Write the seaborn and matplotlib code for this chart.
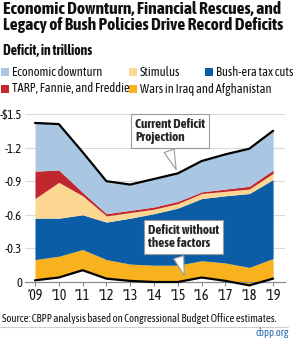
import matplotlib
matplotlib.use("Agg")
import matplotlib.pyplot as plt
from matplotlib import font_manager
from matplotlib.patches import Rectangle
from matplotlib.lines import Line2D
import numpy as np
import pandas as pd
import seaborn as sns

# ---------------- data (trillions of dollars, deficit magnitude) ----------------
years = [2009, 2010, 2011, 2012, 2013, 2014, 2015, 2016, 2017, 2018, 2019]
year_labels = ["\u201909", "\u201910", "\u201911", "\u201912", "\u201913", "\u201914",
               "\u201915", "\u201916", "\u201917", "\u201918", "\u201919"]
without_factors = [0.015, 0.04, 0.105, 0.03, 0.01, 0.0, 0.0, 0.04, 0.01, -0.03, 0.03]
wars = [0.185, 0.19, 0.185, 0.17, 0.15, 0.15, 0.15, 0.15, 0.16, 0.16, 0.18]
bush_tax_cuts = [0.37, 0.34, 0.31, 0.335, 0.41, 0.46, 0.51, 0.555, 0.60, 0.66, 0.705]
stimulus = [0.175, 0.32, 0.17, 0.055, 0.05, 0.04, 0.04, 0.045, 0.04, 0.04, 0.055]
tarp = [0.245, 0.11, 0.03, 0.02, 0.02, 0.02, 0.02, 0.015, 0.02, 0.025, 0.03]
downturn = [0.43, 0.41, 0.36, 0.29, 0.23, 0.25, 0.25, 0.275, 0.31, 0.335, 0.35]
y_ticks = [0, 0.3, 0.6, 0.9, 1.2, 1.5]
y_tick_labels = ["0", "-0.3", "-0.6", "-0.9", "-1.2", "-$1.5"]

series_names = ["Wars in Iraq and Afghanistan", "Bush-era tax cuts", "Stimulus",
                "TARP, Fannie, and Freddie", "Economic downturn"]
colors = {
    "Economic downturn": "#A9C7E2",
    "Stimulus": "#FCD793",
    "Bush-era tax cuts": "#0B5DA6",
    "TARP, Fannie, and Freddie": "#C1272D",
    "Wars in Iraq and Afghanistan": "#F7B21E",
}

# ---------------- fonts ----------------
sns.set_theme(style="white")
available = {f.name for f in font_manager.fontManager.ttflist}
prefs = ["Asap Condensed", "Barlow Condensed", "Roboto Condensed", "Liberation Sans Narrow"]
chosen = [p for p in prefs if p in available][:1]
plt.rcParams["font.family"] = chosen + ["DejaVu Sans"]

W, H = 301, 338
fig = plt.figure(figsize=(W / 100, H / 100), dpi=100)

def fx(px):
    return px / W

def fy(py):
    return 1 - py / H

# ---------------- axes ----------------
ymin, ymax = -0.06, 1.5
ax_left_px, ax_right_px, ax_top_px = 25, 285, 114
ax_bottom_px = 282 + 0.06 * 112
ax = fig.add_axes([fx(ax_left_px), fy(ax_bottom_px),
                   (ax_right_px - ax_left_px) / W, (ax_bottom_px - ax_top_px) / H])

df = pd.DataFrame({"year": years, "base": without_factors, "wars": wars,
                   "bush": bush_tax_cuts, "stim": stimulus, "tarp": tarp,
                   "down": downturn})
layers = [df["wars"], df["bush"], df["stim"], df["tarp"], df["down"]]
ax.stackplot(df["year"], df["base"], *layers,
             colors=["none"] + [colors[n] for n in series_names], linewidth=0, zorder=2)
df["total"] = df[["base", "wars", "bush", "stim", "tarp", "down"]].sum(axis=1)

for v in y_ticks[1:]:
    ax.axhline(v, color="#DADADA", lw=0.8, zorder=0)

sns.lineplot(data=df, x="year", y="total", color="black", lw=1.6, ax=ax, zorder=4)
sns.lineplot(data=df, x="year", y="base", color="black", lw=1.6, ax=ax, zorder=4)

ax.set_xlim(2008.58, 2019.5)
ax.set_ylim(ymin, ymax)
ax.set_xlabel("")
ax.set_ylabel("")
for s in ["top", "right", "left"]:
    ax.spines[s].set_visible(False)
ax.spines["bottom"].set_position(("data", 0))
ax.spines["bottom"].set_color("#8A8A8A")
ax.spines["bottom"].set_linewidth(0.9)
ax.spines["bottom"].set_zorder(3)
ax.set_xticks(years)
ax.set_xticklabels(year_labels)
ax.set_yticks(y_ticks)
ax.set_yticklabels(y_tick_labels)
ax.tick_params(axis="x", direction="out", length=3, width=0.8, color="#8A8A8A",
               labelsize=10, pad=2, bottom=True)
ax.tick_params(axis="y", length=0, labelsize=9, pad=2)
for t in ax.get_xticklabels() + ax.get_yticklabels():
    t.set_color("#111111")

# callouts (speech-bubble boxes with tapered pointers)
bbox = dict(boxstyle="square,pad=0.3", fc="white", ec="#9A9A9A", lw=0.8)
ax.annotate("Current Deficit\nProjection", xy=(2014.97, 0.98), xytext=(2013.2, 1.35),
            ha="left", va="center", fontsize=9.5, fontweight="bold", linespacing=1.0,
            bbox=bbox, zorder=6,
            arrowprops=dict(arrowstyle="wedge,tail_width=0.8,shrink_factor=0.5",
                            fc="white", ec="#9A9A9A", lw=0.8, relpos=(0.45, 0.0)))
ax.annotate("Deficit without\nthese factors", xy=(2015.3, 0.035), xytext=(2013.75, 0.40),
            ha="left", va="center", fontsize=9.5, fontweight="bold", linespacing=1.0,
            bbox=bbox, zorder=6,
            arrowprops=dict(arrowstyle="wedge,tail_width=0.8,shrink_factor=0.5",
                            fc="white", ec="#9A9A9A", lw=0.8, relpos=(0.4, 0.0)))

# ---------------- titles ----------------
fig.text(fx(3), fy(1), "Economic Downturn, Financial Rescues, and\nLegacy of Bush Policies Drive Record Deficits",
         ha="left", va="top", fontsize=12.6, fontweight="bold", linespacing=1.0, color="#111111")
fig.text(fx(3), fy(51), "Deficit, in trillions", ha="left", va="center",
         fontsize=10, fontweight="bold", color="#111111")

# ---------------- legend (manual) ----------------
legend_items = [
    ("Economic downturn", 1, 72),
    ("Stimulus", 129, 72),
    ("Bush-era tax cuts", 205, 72),
    ("TARP, Fannie, and Freddie", 1, 89),
    ("Wars in Iraq and Afghanistan", 129, 89),
]
for name, px, py in legend_items:
    fig.patches.append(Rectangle((fx(px), fy(py + 4)), 8 / W, 8 / H,
                                 transform=fig.transFigure, fc=colors[name], ec="none"))
    fig.text(fx(px + 11), fy(py), name, ha="left", va="center", fontsize=9, color="#111111")

# ---------------- footer ----------------
fig.text(fx(2), fy(318), "Source: CBPP analysis based on Congressional Budget Office estimates.",
         ha="left", va="center", fontsize=7.7, color="#111111")
fig.lines.append(Line2D([0, fx(288)], [fy(327), fy(327)], transform=fig.transFigure,
                        color="#CFCFCF", lw=0.8))
fig.text(fx(289), fy(332), "cbpp.org", ha="right", va="center", fontsize=7.7, color="#2B6CB0")

fig.savefig("out.png", dpi=100)
